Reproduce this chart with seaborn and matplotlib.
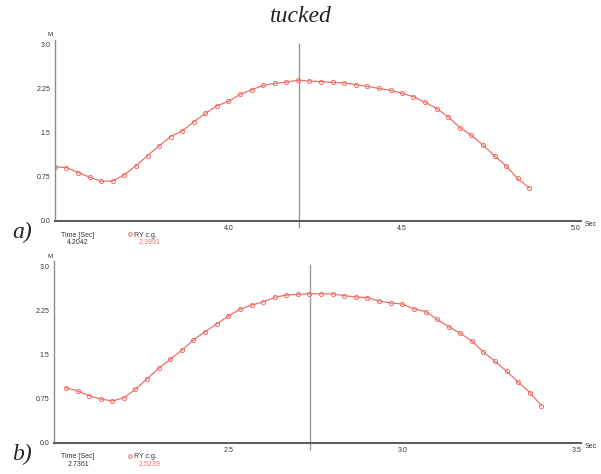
import numpy as np
import pandas as pd
import matplotlib
matplotlib.use("Agg")
import matplotlib.pyplot as plt
import seaborn as sns
from matplotlib.lines import Line2D

sns.set_theme(style="white")
plt.rcParams['font.family'] = ['Liberation Sans', 'DejaVu Sans']

# ---- data ----
a_time = [3.500, 3.533, 3.567, 3.600, 3.633, 3.667, 3.700, 3.733, 3.767, 3.800,
          3.833, 3.867, 3.900, 3.933, 3.967, 4.000, 4.033, 4.067, 4.100, 4.133,
          4.167, 4.200, 4.233, 4.267, 4.300, 4.333, 4.367, 4.400, 4.433, 4.467,
          4.500, 4.533, 4.567, 4.600, 4.633, 4.667, 4.700, 4.733, 4.767, 4.800,
          4.833, 4.867]
a_ry = [0.922, 0.911, 0.825, 0.746, 0.677, 0.683, 0.791, 0.939, 1.116, 1.281,
        1.440, 1.537, 1.691, 1.833, 1.964, 2.038, 2.157, 2.237, 2.311, 2.345,
        2.368, 2.400, 2.386, 2.375, 2.364, 2.352, 2.324, 2.295, 2.261, 2.227,
        2.176, 2.119, 2.023, 1.915, 1.778, 1.591, 1.460, 1.295, 1.108, 0.938,
        0.727, 0.562]

b_time = [2.033, 2.067, 2.100, 2.133, 2.167, 2.200, 2.233, 2.267, 2.300, 2.333,
          2.367, 2.400, 2.433, 2.467, 2.500, 2.533, 2.567, 2.600, 2.633, 2.667,
          2.700, 2.733, 2.767, 2.800, 2.833, 2.867, 2.900, 2.933, 2.967, 3.000,
          3.033, 3.067, 3.100, 3.133, 3.167, 3.200, 3.233, 3.267, 3.300, 3.333,
          3.367, 3.400]
b_ry = [0.934, 0.877, 0.798, 0.742, 0.708, 0.764, 0.906, 1.087, 1.262, 1.415,
        1.574, 1.743, 1.885, 2.015, 2.151, 2.264, 2.338, 2.389, 2.468, 2.508,
        2.519, 2.530, 2.528, 2.526, 2.496, 2.474, 2.462, 2.406, 2.372, 2.355,
        2.275, 2.225, 2.094, 1.970, 1.857, 1.726, 1.540, 1.381, 1.211, 1.030,
        0.849, 0.628]

a_cursor = (4.2042, "4.2042", "2.3991")
b_cursor = (2.7361, "2.7361", "2.5239")

a_xticks = [4.0, 4.5, 5.0]
b_xticks = [2.5, 3.0, 3.5]
y_ticks = [0.0, 0.75, 1.5, 2.25, 3.0]
y_ticklabels = ["0.0", "0.75", "1.5", "2.25", "3.0"]

RED = '#f07068'
W, H = 601, 474


def px(x, y):
    return x / W, 1 - y / H


def draw_panel(ax, t, ry, x0, xticks, cursor, y_base, tag):
    df = pd.DataFrame({'Time': t, 'RY': ry})
    sns.lineplot(data=df, x='Time', y='RY', ax=ax, color=RED, lw=0.9,
                 marker='o', markersize=3.0, markerfacecolor='none',
                 markeredgecolor=RED, markeredgewidth=0.7)
    ax.set_xlim(x0, x0 + 1.515)
    ax.set_ylim(0, 3.08)
    ax.set_xticks(xticks)
    ax.set_xticklabels([f"{v:.1f}" for v in xticks])
    ax.set_yticks(y_ticks)
    ax.set_yticklabels(y_ticklabels)
    ax.set_xlabel('')
    ax.set_ylabel('')
    for s in ['top', 'right']:
        ax.spines[s].set_visible(False)
    ax.spines['left'].set_color('#8c8c8c')
    ax.spines['left'].set_linewidth(1.0)
    ax.spines['bottom'].set_color('#5a5a5a')
    ax.spines['bottom'].set_linewidth(1.4)
    ax.tick_params(axis='x', direction='inout', length=4, width=0.6,
                   color='#555555', labelsize=5, pad=1, labelcolor='#333333')
    ax.tick_params(axis='y', direction='out', length=2.5, width=0.6,
                   color='#555555', labelsize=5, pad=1, labelcolor='#333333')
    ax.vlines(cursor[0], -0.12, 3.03, color='#9a9a9a', lw=1.0, clip_on=False, zorder=1)
    ax.patch.set_alpha(0)

    # axis units
    fig.text(*px(50, y_base - 186), 'M', fontsize=4.5, ha='center', va='center', color='#333333')
    fig.text(*px(585, y_base + 4), 'Sec', fontsize=5, ha='left', va='center', color='#333333')

    # cursor readout
    fig.text(*px(61, y_base + 14), 'Time [Sec]', fontsize=5, ha='left', va='center', color='#333333')
    fig.text(*px(78, y_base + 22), cursor[1], fontsize=5, ha='center', va='center', color='#333333')
    handle = Line2D([], [], ls='none', marker='o', markersize=2.6,
                    markerfacecolor='none', markeredgecolor=RED, markeredgewidth=0.7)
    leg = ax.legend([handle], ['RY c.g.'], loc='center left', frameon=False,
                    fontsize=5, handlelength=0.4, handletextpad=0.3,
                    borderpad=0, borderaxespad=0,
                    bbox_to_anchor=px(129, y_base + 14),
                    bbox_transform=fig.transFigure)
    for txt in leg.get_texts():
        txt.set_color('#333333')
    fig.text(*px(150, y_base + 22), cursor[2], fontsize=5, ha='center', va='center', color=RED)

    fig.text(*px(22, y_base + 11), tag, fontsize=17, style='italic', ha='center', va='center',
             family=['Liberation Serif', 'DejaVu Serif'], color='#222222')


fig = plt.figure(figsize=(6.01, 4.74), dpi=100)
fig.patch.set_facecolor('white')

# panel a: x0=3.5 at px 55, y0 at px 221
ax_a = fig.add_axes([55 / W, (H - 221) / H, 525.7 / W, 180.7 / H])
draw_panel(ax_a, a_time, a_ry, 3.5, a_xticks, a_cursor, 221, 'a)')

# panel b: x0=2.0 at px 54, y0 at px 443
ax_b = fig.add_axes([54.3 / W, (H - 442.7) / H, 527.2 / W, 181.4 / H])
draw_panel(ax_b, b_time, b_ry, 2.0, b_xticks, b_cursor, 443, 'b)')

fig.text(*px(301, 17), 'tucked', fontsize=17, style='italic', ha='center', va='center',
         family=['Liberation Serif', 'DejaVu Serif'], color='#222222')

fig.savefig('out.png', dpi=100, facecolor='white')
